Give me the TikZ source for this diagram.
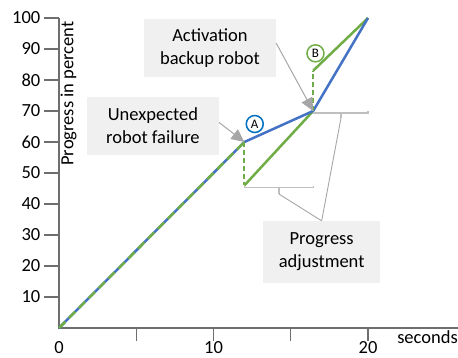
\documentclass[tikz,border=0pt]{standalone}
\usepackage{fontspec}
\setmainfont{Carlito}
\usetikzlibrary{arrows.meta}
\definecolor{bl}{HTML}{4472C4}
\definecolor{gr}{HTML}{70AD47}
\definecolor{cb}{HTML}{0070C0}
\definecolor{ax}{HTML}{6E6E6E}
\definecolor{lg}{HTML}{BFBFBF}
\definecolor{ag}{HTML}{A6A6A6}
\definecolor{bxf}{HTML}{F0F0F0}
\tikzstyle{lbl}=[inner sep=0pt,font=\fontsize{18.5}{23}\selectfont]
\tikzstyle{note}=[fill=bxf,align=center,minimum width=132pt,minimum height=58pt,inner sep=2pt,font=\fontsize{18.5}{23}\selectfont]
\tikzstyle{tag}=[circle,line width=1.5pt,fill=white,inner sep=0pt,minimum size=17pt,font=\fontsize{13}{13}\selectfont]
\tikzstyle{brk}=[draw=lg,line width=1.2pt]
\tikzstyle{call}=[ag,line width=0.9pt]
\tikzstyle{pt}=[ag,line width=1pt,-{Triangle[length=13pt,width=12pt]}]
\tikzstyle{crv}=[line width=2.5pt]
\tikzstyle{axl}=[ax,line width=1.3pt]

\begin{document}
\begin{tikzpicture}[x=15.45pt,y=3.1pt]
\useasboundingbox (-3.819,-9.677) rectangle (25.825,105.806);
\coordinate (o) at (0,0); \coordinate (a) at (12,60); \coordinate (c) at (16.45,70); \coordinate (t) at (20,100);
\coordinate (gl) at (12,46); \coordinate (gh) at (16.45,83);
\draw[axl] (0,100) -- (o) -- (25.83,0);
\foreach \y in {10,20,...,100} {\draw[axl] (-0.97,\y) -- (0,\y); \node[lbl,anchor=east] (y\y) at (-1.2,\y) {\y};}
\foreach \x in {5,10,15,20} \draw[axl] (\x,0) -- (\x,-4.2);
\foreach \x in {0,10,20} \node[lbl,anchor=base] (x\x) at (\x,-8.3) {\x};
\node[lbl,anchor=base west] (sec) at (21.88,-5.16) {seconds};
\node[lbl,anchor=base west,rotate=90] (prog) at (0.93,52.3) {Progress in percent};
\draw[gr,crv] (gl) -- (c); \draw[gr,crv] (gh) -- (t);
\draw[bl,crv] (o) -- (a) -- (c) -- (t);
\draw[gr,crv,dash pattern=on 9pt off 5pt] (o) -- (a);
\draw[gr,line width=2pt,dash pattern=on 5pt off 3pt] (a) -- (gl);
\draw[gr,line width=2pt,dash pattern=on 5pt off 3pt] (c) -- (gh);
\draw[brk] (12,45.9) -- (12,45.3) -- (16.45,45.3) -- (16.45,45.9);
\draw[brk] (14.24,45.3) -- (14.24,43.2) coordinate (s1);
\draw[brk] (16.45,69.35) -- (20,69.35) -- (20,70);
\draw[brk] (18.25,69.35) -- (18.25,67.7) coordinate (s2);
\node[note] (act) at (9.77,90.3) {Activation\\backup robot};
\node[note] (fail) at (6.08,65.3) {Unexpected\\robot failure};
\node[note,minimum width=117pt,minimum height=62pt] (adj) at (17.0,24.5) {Progress\\adjustment};
\draw[call] (s1) -- (adj.north); \draw[call] (s2) -- (adj.north);
\draw[pt] ([yshift=3pt]fail.east) -- (a);
\draw[pt] ([yshift=5pt]act.east) -- (c);
\node[tag,draw=cb] (ta) at (12.67,65.8) {A};
\node[tag,draw=gr] (tb) at (16.6,88.6) {B};
\end{tikzpicture}
\end{document}
